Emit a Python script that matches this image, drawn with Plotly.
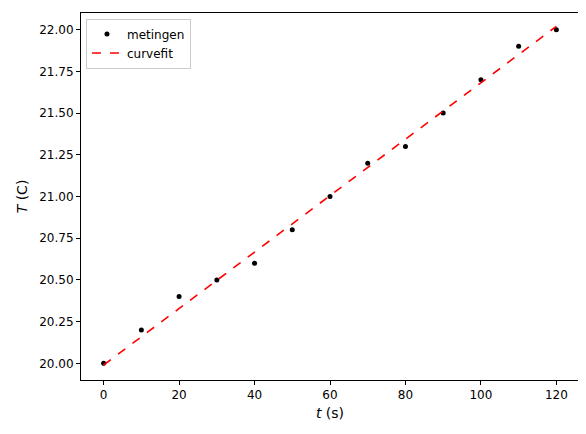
import plotly.graph_objects as go

# metingen
t_meting = [0, 10, 20, 30, 40, 50, 60, 70, 80, 90, 100, 110, 120]
T_meting = [20.0, 20.2, 20.4, 20.5, 20.6, 20.8, 21.0, 21.2, 21.3, 21.5, 21.7, 21.9, 22.0]

t_fit = [0, 120]
T_fit = [19.99, 22.02]

fig = go.Figure()
fig.add_trace(go.Scatter(x=t_meting, y=T_meting, mode="markers", name="metingen",
                         marker=dict(color="black", size=5)))
fig.add_trace(go.Scatter(x=t_fit, y=T_fit, mode="lines", name="curvefit",
                         line=dict(color="red", dash="dash", width=1.6)))

ax = dict(showgrid=False, zeroline=False, showline=True, linecolor="black", linewidth=1,
          mirror=True, ticks="outside", ticklen=4, tickcolor="black", automargin=False)
fig.update_xaxes(**ax, range=[-6, 126], tickvals=list(range(0, 121, 20)),
                 title=dict(text="<i>t</i> (s)", standoff=6))
fig.update_yaxes(**ax, range=[19.9, 22.1], tickvals=[20 + 0.25 * i for i in range(9)],
                 tickformat=".2f", title=dict(text="<i>T</i> (C)", standoff=8))
fig.update_layout(
    width=586, height=434, plot_bgcolor="white", paper_bgcolor="white",
    margin=dict(l=73, r=15, t=5, b=62),
    font=dict(family="DejaVu Sans", size=12, color="black"),
    showlegend=True,
    legend=dict(x=0.01, y=0.985, xanchor="left", yanchor="top", bgcolor="white",
                bordercolor="#cccccc", borderwidth=1),
)
fig.write_html("out.html")
